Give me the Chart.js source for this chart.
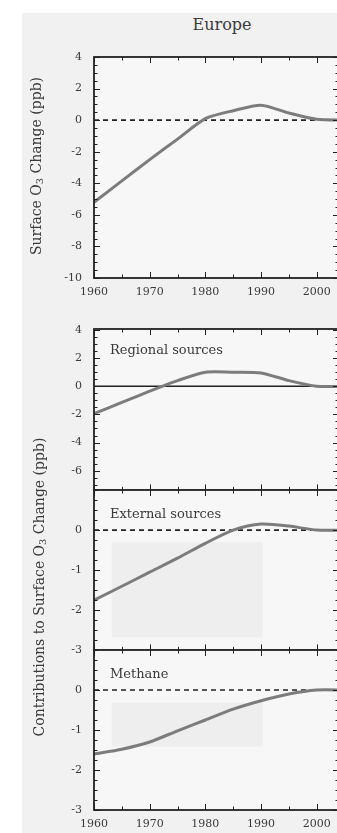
<!DOCTYPE html>
<html><head><meta charset="utf-8">
<script src="https://cdn.jsdelivr.net/npm/chart.js@4"></script>
<style>
html,body{margin:0;padding:0;background:#fff;}
#wrap{position:relative;width:337px;height:833px;overflow:hidden;background:#fff;font-family:"DejaVu Serif",serif;color:#3a3a3a;}
#bg{position:absolute;left:22px;top:13px;width:315px;height:820px;background:#f1f1f1;}
.pan{position:absolute;left:0;width:345px;}
.t{position:absolute;white-space:nowrap;color:#3a3a3a;line-height:1;}
.rot{transform:translate(-50%,-50%) rotate(-90deg);}
.lab{transform:translateY(-50%);font-size:13px;}
sub{font-size:70%;vertical-align:-0.25em;}
</style></head><body>
<div id="wrap">
<div id="bg"></div>
<div class="pan" id="p1"><canvas id="c1"></canvas></div>
<div class="pan" id="p2"><canvas id="c2"></canvas></div>
<div class="pan" id="p3"><canvas id="c3"></canvas></div>
<div class="pan" id="p4"><canvas id="c4"></canvas></div>
<div class="t" style="left:222px;top:25px;transform:translate(-50%,-50%);font-size:16px;">Europe</div>
<div class="t rot" style="left:37px;top:166px;font-size:14px;">Surface O<sub>3</sub> Change (ppb)</div>
<div class="t rot" style="left:40px;top:587px;font-size:14px;">Contributions to Surface O<sub>3</sub> Change (ppb)</div>
<div class="t lab" style="left:110px;top:349px;">Regional sources</div>
<div class="t lab" style="left:110px;top:513px;">External sources</div>
<div class="t lab" style="left:110px;top:673px;">Methane</div>
</div>
<script>
// ---- data ----
const years = [1960, 1965, 1970, 1975, 1980, 1985, 1990, 1995, 2000, 2005];
const europeTotal     = [-5.2, -3.85, -2.5, -1.2, 0.1, 0.6, 0.95, 0.45, 0.05, 0];
const regionalSources = [-1.95, -1.15, -0.35, 0.4, 1.0, 1.0, 0.95, 0.4, 0, 0];
const externalSources = [-1.75, -1.4, -1.05, -0.7, -0.33, 0, 0.15, 0.1, 0, 0];
const methane         = [-1.6, -1.48, -1.3, -1.02, -0.75, -0.48, -0.27, -0.1, 0, 0];

const xTickYears  = [1960, 1970, 1980, 1990, 2000];
const xMinorYears = [1965, 1975, 1985, 1995];
const totalYTicks    = [-10, -8, -6, -4, -2, 0, 2, 4];
const regionalYTicks = [-6, -4, -2, 0, 2, 4];
const externalYTicks = [-3, -2, -1, 0];
const methaneYTicks  = [-3, -2, -1, 0];

Chart.defaults.font.family = '"DejaVu Serif", serif';

const framePlugin = {
  id: 'frame',
  beforeDatasetsDraw(chart, args, o) {
    const {ctx, chartArea: a, scales: {x, y}} = chart;
    ctx.save();
    ctx.fillStyle = '#f7f7f7';
    ctx.fillRect(a.left, a.top, a.right - a.left, a.bottom - a.top);
    (o.boxes || []).forEach(b => {
      const x0 = x.getPixelForValue(b.x0), x1 = x.getPixelForValue(b.x1);
      const y0 = y.getPixelForValue(b.y0), y1 = y.getPixelForValue(b.y1);
      ctx.fillStyle = '#eeeeee';
      ctx.fillRect(x0, y0, x1 - x0, y1 - y0);
    });
    const yz = y.getPixelForValue(o.ref);
    ctx.strokeStyle = '#222';
    ctx.lineWidth = 1.6;
    ctx.setLineDash(o.dash || []);
    ctx.beginPath(); ctx.moveTo(a.left, yz); ctx.lineTo(a.right, yz); ctx.stroke();
    ctx.restore();
  },
  afterDatasetsDraw(chart, args, o) {
    const {ctx, chartArea: a, scales: {x, y}} = chart;
    ctx.save();
    ctx.strokeStyle = '#222';
    ctx.lineWidth = 1;
    const tick = (x1, y1, x2, y2) => { ctx.beginPath(); ctx.moveTo(x1, y1); ctx.lineTo(x2, y2); ctx.stroke(); };
    xTickYears.forEach(v => { const p = Math.round(x.getPixelForValue(v)) + 0.5; tick(p, a.top, p, a.top + 6); tick(p, a.bottom, p, a.bottom - 6); });
    xMinorYears.forEach(v => { const p = Math.round(x.getPixelForValue(v)) + 0.5; tick(p, a.top, p, a.top + 3.5); tick(p, a.bottom, p, a.bottom - 3.5); });
    const lo = y.min, hi = y.max, st = o.minorStep;
    for (let v = Math.ceil(lo / st) * st; v <= hi + 1e-9; v += st) {
      const p = Math.round(y.getPixelForValue(v)) + 0.5;
      const major = o.yTicks.some(t => Math.abs(t - v) < 1e-6);
      const len = major ? 6 : 3.5;
      tick(a.left, p, a.left + len, p);
      tick(a.right, p, a.right - len, p);
    }
    ctx.lineWidth = 1.8;
    ctx.strokeRect(a.left, a.top, a.right - a.left, a.bottom - a.top);
    ctx.restore();
  }
};

function panel(id, boxId, cfg) {
  const box = document.getElementById(boxId);
  const cv = document.getElementById(id);
  const padTop = 20, xH = cfg.showX ? 24 : 10;
  let h = padTop + (cfg.bottom - cfg.top) + xH;
  let top = cfg.top - padTop;
  box.style.top = top + 'px';
  box.style.height = h + 'px';
  const chart = new Chart(cv, {
    type: 'line',
    data: {
      datasets: [{
        data: years.map((yr, i) => ({x: yr, y: cfg.values[i]})),
        borderColor: '#7c7c7c',
        borderWidth: 3,
        pointRadius: 0,
        tension: 0.25,
        fill: false
      }]
    },
    options: {
      responsive: true,
      maintainAspectRatio: false,
      animation: false,
      devicePixelRatio: 1,
      layout: {padding: {left: 0, right: 6, top: padTop, bottom: 0}},
      plugins: {
        legend: {display: false},
        tooltip: {enabled: false},
        frame: {ref: 0, dash: cfg.dash, minorStep: cfg.minorStep, yTicks: cfg.yTicks, boxes: cfg.boxes}
      },
      scales: {
        x: {
          type: 'linear', min: 1960, max: 2004,
          grid: {display: false, drawTicks: false}, border: {display: false},
          afterBuildTicks: s => { s.ticks = xTickYears.map(v => ({value: v})); },
          afterFit: s => { s.height = xH; },
          ticks: {display: cfg.showX, padding: 8, font: {size: 11}, color: '#3a3a3a', maxRotation: 0, autoSkip: false, callback: v => String(v)}
        },
        y: {
          type: 'linear', min: cfg.min, max: cfg.max,
          grid: {display: false, drawTicks: false}, border: {display: false},
          afterBuildTicks: s => { s.ticks = cfg.yTicks.map(v => ({value: v})); },
          afterFit: s => { s.width = 94; },
          ticks: {padding: 12, font: {size: 11}, color: '#3a3a3a', autoSkip: false, callback: v => String(v)}
        }
      }
    },
    plugins: [framePlugin]
  });
  // align the chart area on the wanted panel edges
  for (let k = 0; k < 3; k++) {
    const a = chart.chartArea;
    top = top + (cfg.top - (top + a.top));
    box.style.top = top + 'px';
    const d = cfg.bottom - (top + a.bottom);
    if (Math.abs(d) > 0.5) { h = Math.round(h + d); box.style.height = h + 'px'; chart.resize(); }
  }
}

panel('c1', 'p1', {top: 57, bottom: 278, min: -10, max: 4, values: europeTotal, yTicks: totalYTicks, minorStep: 0.5, dash: [5, 4], showX: true});
panel('c2', 'p2', {top: 329, bottom: 490, min: -7.4, max: 4.07, values: regionalSources, yTicks: regionalYTicks, minorStep: 0.5, dash: [], showX: false});
panel('c3', 'p3', {top: 490, bottom: 650, min: -3, max: 1, values: externalSources, yTicks: externalYTicks, minorStep: 0.25, dash: [5, 4], showX: false,
  boxes: [{x0: 1963.2, x1: 1990.3, y0: -0.3, y1: -2.68}]});
panel('c4', 'p4', {top: 650, bottom: 810, min: -3, max: 1, values: methane, yTicks: methaneYTicks, minorStep: 0.25, dash: [5, 4], showX: true,
  boxes: [{x0: 1963.2, x1: 1990.3, y0: -0.32, y1: -1.41}]});
</script>
</body></html>
